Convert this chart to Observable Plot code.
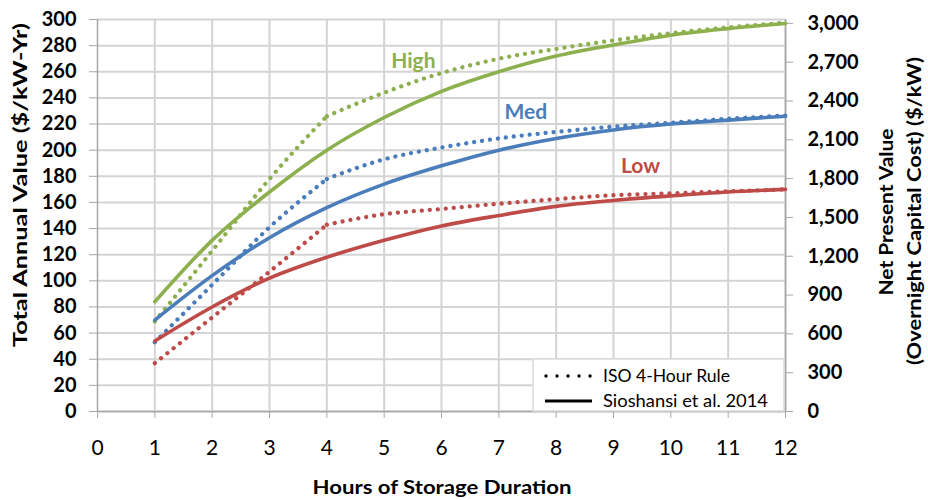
<!DOCTYPE html>
<html><head><meta charset="utf-8">
<script src="https://cdn.jsdelivr.net/npm/d3@7"></script>
<script src="https://cdn.jsdelivr.net/npm/@observablehq/plot@0.6"></script>
<style>
body{margin:0;background:#fff;}
#chart svg{font-family:Lato, sans-serif;}
</style></head><body><div id="chart"></div>
<script>
// ---- data ----
const hours = [1,2,3,4,5,6,7,8,9,10,11,12];
const highSolid  = [84,131,168,200,225,245,260,272,280.5,288,293,297];
const highDotted = [69,123,178,226,244,259,270,277.5,284,289.5,294,297.5];
const medSolid   = [70,104,133,156,174,188,200,209,215.5,220,223,226];
const medDotted  = [53,97,141,178,193,202,209,214,218,221,224,226.5];
const lowSolid   = [54,80,102,118,131,142,150,157,161.5,165,168,170];
const lowDotted  = [37,72,107,143,151,155,159,162.5,165.5,167,168.5,170];
const seriesNames = ["High","Med","Low"];
const labelHours  = [5.51,7.47,9.47];
const labelValues = [268,229,188];
const xTicks = [0,1,2,3,4,5,6,7,8,9,10,11,12];
const yTicks = [0,20,40,60,80,100,120,140,160,180,200,220,240,260,280,300];
const npvTicks = [0,300,600,900,1200,1500,1800,2100,2400,2700,3000];
const npvFactor = 10.1;
const legendLabels = ["ISO 4-Hour Rule","Sioshansi et al. 2014"];

const colors = {High:"#8DB04E", Med:"#4A7DBA", Low:"#BE4B48"};
const solids = {High:highSolid, Med:medSolid, Low:lowSolid};
const dotteds = {High:highDotted, Med:medDotted, Low:lowDotted};

const marks = [
  Plot.gridY({ticks: yTicks, stroke:"#d4d4d4", strokeOpacity:1, strokeWidth:2}),
  Plot.gridX({ticks: xTicks.filter(d=>d>0), stroke:"#d4d4d4", strokeOpacity:1, strokeWidth:2}),
  Plot.ruleX([0,12], {stroke:"#a6a6a6", strokeWidth:1.5}),
  Plot.ruleY([0], {stroke:"#a6a6a6", strokeWidth:1.5}),
  Plot.axisX({ticks:xTicks, tickSize:7, tickPadding:22, stroke:"#a6a6a6", label:null, fontSize:21}),
  Plot.axisY({anchor:"left", ticks:yTicks, tickSize:8, tickPadding:13, stroke:"#a6a6a6", label:null, fontWeight:"bold", fontSize:20}),
  Plot.axisY({anchor:"right", ticks:npvTicks.map(t=>t/npvFactor), tickFormat:d=>d3.format(",")(Math.round(d*npvFactor)), tickSize:7, tickPadding:15, stroke:"#a6a6a6", label:null, fontWeight:"bold", fontSize:20})
];
for (const name of seriesNames) {
  const s = hours.map((h,i)=>({h, v: solids[name][i]}));
  const d = hours.map((h,i)=>({h, v: dotteds[name][i]}));
  marks.push(Plot.line(s, {x:"h", y:"v", stroke:colors[name], strokeWidth:3.6, curve:"monotone-x"}));
  const dotOpts = {x:"h", y:"v", stroke:colors[name], strokeWidth:4.3, strokeDasharray:"0.01,8", strokeLinecap:"round", curve:"monotone-x"};
  marks.push(Plot.line(d.filter(p=>p.h<=4), dotOpts));
  marks.push(Plot.line(d.filter(p=>p.h>=4), dotOpts));
}
marks.push(Plot.text(seriesNames.map((n,i)=>({n, x:labelHours[i], y:labelValues[i]})), {x:"x", y:"y", text:"n", fill:d=>colors[d.n], fontWeight:"bold", fontSize:21}));

const chart = Plot.plot({
  width:928, height:500,
  marginLeft:97, marginRight:143, marginTop:19, marginBottom:89,
  x:{domain:[0,12]},
  y:{domain:[0,300]},
  style:{fontFamily:"Lato, sans-serif", color:"#000", background:"#fff"},
  marks
});
document.getElementById("chart").appendChild(chart);

// titles and legend
const svg = d3.select(chart);
function title(x, y, rot, len, txt) {
  svg.append("text").attr("transform", `translate(${x},${y}) rotate(${rot})`).attr("text-anchor","middle")
    .attr("font-weight","bold").attr("font-size",19).attr("fill","#000")
    .attr("textLength", len).attr("lengthAdjust","spacingAndGlyphs").text(txt);
}
title(27, 185, -90, 324, "Total Annual Value ($/kW-Yr)");
title(893, 212, -90, 167, "Net Present Value");
title(921, 211, -90, 308, "(Overnight Capital Cost) ($/kW)");
title(442, 494, 0, 259, "Hours of Storage Duration");

const lg = svg.append("g");
lg.append("rect").attr("x",533).attr("y",359).attr("width",251).attr("height",52)
  .attr("fill","#fff").attr("stroke","#d9d9d9").attr("stroke-width",1.5);
lg.append("line").attr("x1",546).attr("x2",592).attr("y1",376).attr("y2",376)
  .attr("stroke","#000").attr("stroke-width",3.4).attr("stroke-dasharray","0.01,11").attr("stroke-linecap","round");
lg.append("line").attr("x1",545).attr("x2",592).attr("y1",401).attr("y2",401)
  .attr("stroke","#000").attr("stroke-width",3);
lg.selectAll("text.l").data(legendLabels).join("text").attr("class","l")
  .attr("x",603).attr("y",(d,i)=>382+i*25).attr("font-size",17).attr("fill","#000")
  .attr("text-anchor","start").attr("textLength",(d,i)=>i===0?127:165).attr("lengthAdjust","spacingAndGlyphs").text(d=>d);
</script></body></html>
